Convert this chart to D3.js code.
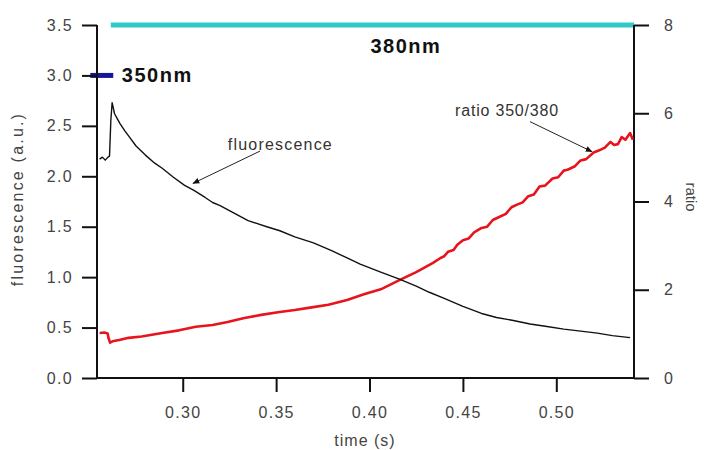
<!DOCTYPE html>
<html>
<head>
<meta charset="utf-8">
<script src="https://cdn.jsdelivr.net/npm/d3@7/dist/d3.min.js"></script>
<style>
  body { margin: 0; background: #fff; }
  svg { display: block; font-family: "Liberation Sans", Arial, sans-serif; }
  .axis path, .axis line { stroke: #111; stroke-width: 2px; }
  .axis text { fill: #444; font-size: 16px; letter-spacing: 1.3px; }
</style>
</head>
<body>
<svg id="chart" width="704" height="450"></svg>
<script>
// time (s) and fluorescence (a.u.)
var fluoTime = [0.2555, 0.2570, 0.2585, 0.2600, 0.2608, 0.2615, 0.2622, 0.2635, 0.2650, 0.2665,
    0.2690, 0.2710, 0.2750, 0.2800, 0.2850, 0.2890, 0.2950, 0.3010, 0.3060, 0.3120,
    0.3160, 0.3200, 0.3250, 0.3300, 0.3350, 0.3400, 0.3450, 0.3520, 0.3600, 0.3700,
    0.3800, 0.3880, 0.3950, 0.4060, 0.4160, 0.4250, 0.4320, 0.4400, 0.4500, 0.4600,
    0.4680, 0.4770, 0.4860, 0.4950, 0.5040, 0.5130, 0.5220, 0.5300, 0.5395];
var fluoValue = [2.17, 2.19, 2.16, 2.19, 2.20, 2.55, 2.73, 2.62, 2.57, 2.52,
    2.45, 2.40, 2.30, 2.21, 2.13, 2.08, 1.99, 1.91, 1.86, 1.79,
    1.74, 1.71, 1.66, 1.61, 1.56, 1.53, 1.50, 1.46, 1.40, 1.34,
    1.26, 1.19, 1.13, 1.05, 0.98, 0.91, 0.85, 0.79, 0.71, 0.64,
    0.60, 0.57, 0.535, 0.51, 0.485, 0.465, 0.445, 0.42, 0.40];

// ratio 350/380 (right axis)
var ratioTime = [0.2555, 0.2580, 0.2598, 0.2603, 0.2611, 0.2630, 0.2660, 0.2710, 0.2780, 0.2890,
    0.2980, 0.3070, 0.3160, 0.3240, 0.3330, 0.3420, 0.3510, 0.3600, 0.3690, 0.3780,
    0.3880, 0.3970, 0.4060, 0.4160, 0.4250, 0.4340, 0.4380, 0.4400, 0.4420, 0.4450,
    0.4470, 0.4500, 0.4530, 0.4560, 0.4600, 0.4630, 0.4660, 0.4700, 0.4730, 0.4760,
    0.4790, 0.4820, 0.4850, 0.4880, 0.4910, 0.4940, 0.4980, 0.5010, 0.5040, 0.5060,
    0.5100, 0.5130, 0.5160, 0.5200, 0.5230, 0.5260, 0.5290, 0.5310, 0.5330, 0.5350,
    0.5370, 0.5395, 0.5410];
var ratioValue = [1.02, 1.03, 1.01, 0.90, 0.80, 0.84, 0.86, 0.91, 0.94, 1.02,
    1.08, 1.16, 1.20, 1.27, 1.36, 1.43, 1.49, 1.54, 1.60, 1.66,
    1.77, 1.90, 2.01, 2.22, 2.40, 2.61, 2.72, 2.76, 2.86, 2.90,
    3.02, 3.12, 3.16, 3.30, 3.40, 3.43, 3.58, 3.66, 3.72, 3.87,
    3.93, 3.98, 4.12, 4.16, 4.34, 4.36, 4.52, 4.55, 4.70, 4.72,
    4.80, 4.93, 4.96, 5.11, 5.16, 5.22, 5.35, 5.28, 5.30, 5.46,
    5.40, 5.55, 5.40];

// excitation periods: [start, end, level on left axis]
var exc350 = [0.2505, 0.2628, 3.0];
var exc380 = [0.2615, 0.5416, 3.5];

var xTicks = [0.30, 0.35, 0.40, 0.45, 0.50];
var yLeftTicks = [0, 0.5, 1.0, 1.5, 2.0, 2.5, 3.0, 3.5];
var yRightTicks = [0, 2, 4, 6, 8];

var svg = d3.select('#chart');

var x = d3.scaleLinear().domain([0.2541, 0.5416]).range([97, 634]),
    yL = d3.scaleLinear().domain([0, 3.5]).range([378, 25]),
    yR = d3.scaleLinear().domain([0, 8]).range([378, 25]);

// excitation bars
svg.append('line')
    .attr('x1', x(exc380[0])).attr('x2', x(exc380[1]))
    .attr('y1', yL(exc380[2])).attr('y2', yL(exc380[2]))
    .attr('stroke', '#2ecaca').attr('stroke-width', 5);
svg.append('line')
    .attr('x1', x(exc350[0])).attr('x2', x(exc350[1]))
    .attr('y1', yL(exc350[2])).attr('y2', yL(exc350[2]))
    .attr('stroke', '#16169a').attr('stroke-width', 5);

svg.append('text').text('380nm')
    .attr('x', x(0.4195)).attr('y', yL(3.5) + 28)
    .attr('text-anchor', 'middle')
    .style('font-size', '20px').style('font-weight', 'bold').style('letter-spacing', '1.5px').attr('fill', '#111');
svg.append('text').text('350nm')
    .attr('x', x(0.2674)).attr('y', yL(3.0) + 7)
    .style('font-size', '20px').style('font-weight', 'bold').style('letter-spacing', '1.5px').attr('fill', '#111');

// axes
svg.append('g').attr('class', 'axis')
    .attr('transform', 'translate(0,378)')
    .call(d3.axisBottom(x).tickValues(xTicks).tickSize(14).tickPadding(15).tickFormat(d3.format('.2f')))
    .call(function(g) { g.select('.domain').attr('d', 'M97,0H634'); });
svg.append('g').attr('class', 'axis')
    .attr('transform', 'translate(97,0)')
    .call(d3.axisLeft(yL).tickValues(yLeftTicks).tickSize(15).tickPadding(9).tickFormat(d3.format('.1f')))
    .call(function(g) { g.select('.domain').attr('d', 'M0,25V378'); });
svg.append('g').attr('class', 'axis')
    .attr('transform', 'translate(634,0)')
    .call(d3.axisRight(yR).tickValues(yRightTicks).tickSize(15).tickPadding(15))
    .call(function(g) { g.select('.domain').attr('d', 'M0,25V378'); });

// axis titles
svg.append('text').text('time (s)')
    .attr('x', 365).attr('y', 446).attr('text-anchor', 'middle')
    .style('font-size', '16px').style('letter-spacing', '1px').attr('fill', '#444');
svg.append('text').text('fluorescence (a.u.)')
    .attr('transform', 'translate(23,199) rotate(-90)').attr('text-anchor', 'middle')
    .style('font-size', '16px').style('letter-spacing', '2.2px').attr('fill', '#444');
svg.append('text').text('ratio')
    .attr('transform', 'translate(686,197) rotate(90)').attr('text-anchor', 'middle')
    .style('font-size', '15px').attr('fill', '#444');

// traces
var fluoLine = d3.line().x(function(d, i) { return x(fluoTime[i]); }).y(function(d) { return yL(d); });
var ratioLine = d3.line().x(function(d, i) { return x(ratioTime[i]); }).y(function(d) { return yR(d); });

svg.append('path').datum(ratioValue)
    .attr('d', ratioLine).attr('fill', 'none')
    .attr('stroke', '#e8141c').attr('stroke-width', 2.6).attr('stroke-linejoin', 'round');
svg.append('path').datum(fluoValue)
    .attr('d', fluoLine).attr('fill', 'none')
    .attr('stroke', '#111').attr('stroke-width', 1.4).attr('stroke-linejoin', 'round');

// annotations
svg.append('defs').append('marker')
    .attr('id', 'arrow').attr('viewBox', '0 0 10 10').attr('refX', 9).attr('refY', 5)
    .attr('markerWidth', 7).attr('markerHeight', 7).attr('orient', 'auto')
    .append('path').attr('d', 'M0,1L10,5L0,9Z').attr('fill', '#111');

svg.append('line')
    .attr('x1', x(0.3414)).attr('y1', yL(2.25)).attr('x2', x(0.3055)).attr('y2', yL(1.93))
    .attr('stroke', '#222').attr('stroke-width', 1).attr('marker-end', 'url(#arrow)');
svg.append('text').text('fluorescence')
    .attr('x', x(0.3523)).attr('y', yL(2.31) + 5).attr('text-anchor', 'middle')
    .style('font-size', '16px').style('letter-spacing', '1.2px').attr('fill', '#333');

svg.append('line')
    .attr('x1', x(0.4859)).attr('y1', yR(5.81)).attr('x2', x(0.5191)).attr('y2', yR(5.13))
    .attr('stroke', '#222').attr('stroke-width', 1).attr('marker-end', 'url(#arrow)');
svg.append('text').text('ratio 350/380')
    .attr('x', x(0.4736)).attr('y', yR(6.04) + 5).attr('text-anchor', 'middle')
    .style('font-size', '16px').style('letter-spacing', '0.8px').attr('fill', '#333');
</script>
</body>
</html>
